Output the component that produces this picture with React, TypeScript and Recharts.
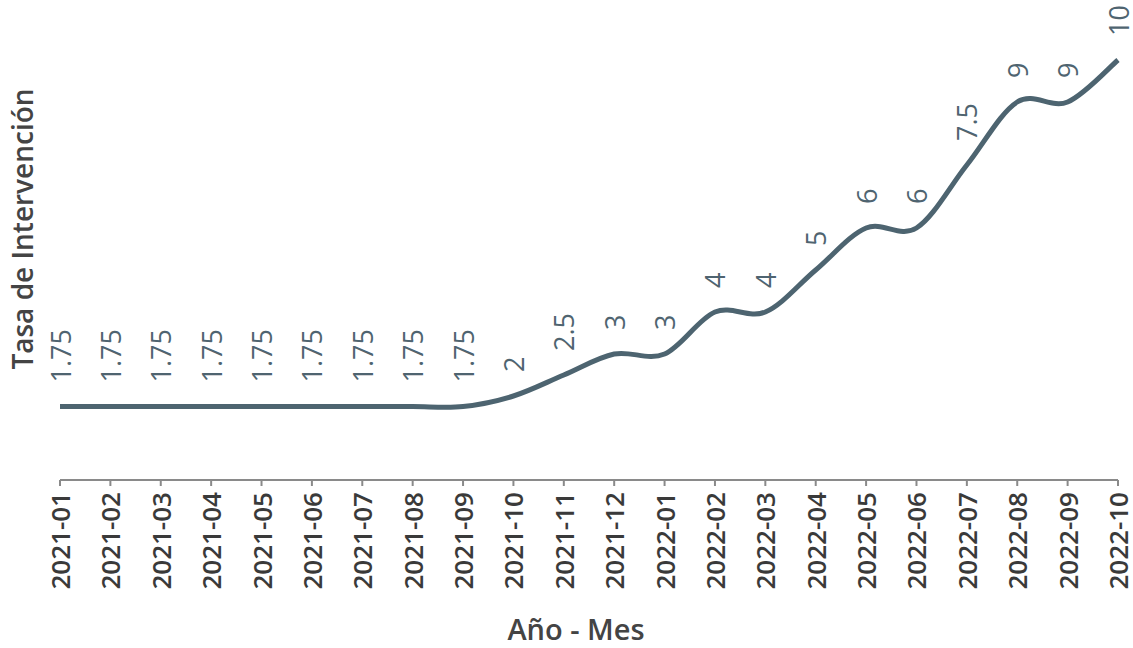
import React from "react";
import { LineChart, Line, XAxis, YAxis, LabelList } from "recharts";

const months = [
  "2021-01", "2021-02", "2021-03", "2021-04", "2021-05", "2021-06",
  "2021-07", "2021-08", "2021-09", "2021-10", "2021-11", "2021-12",
  "2022-01", "2022-02", "2022-03", "2022-04", "2022-05", "2022-06",
  "2022-07", "2022-08", "2022-09", "2022-10",
];
const rates = [
  1.75, 1.75, 1.75, 1.75, 1.75, 1.75, 1.75, 1.75, 1.75, 2, 2.5, 3,
  3, 4, 4, 5, 6, 6, 7.5, 9, 9, 10,
];

const data = months.map((m, i) => ({ month: m, rate: rates[i] }));

const FONT = "'Open Sans', sans-serif";
const LINE = "#4d6470";

// smooth line like a spreadsheet "smoothed line" (catmull-rom bezier)
const smoothCurve = (context: any) => {
  let pts: [number, number][] = [];
  return {
    areaStart() {},
    areaEnd() {},
    lineStart() {
      pts = [];
    },
    point(x: number, y: number) {
      pts.push([+x, +y]);
    },
    lineEnd() {
      if (!pts.length) return;
      context.moveTo(pts[0][0], pts[0][1]);
      for (let i = 0; i < pts.length - 1; i++) {
        const p0 = pts[Math.max(i - 1, 0)];
        const p1 = pts[i];
        const p2 = pts[i + 1];
        const p3 = pts[Math.min(i + 2, pts.length - 1)];
        context.bezierCurveTo(
          p1[0] + (p2[0] - p0[0]) / 6,
          p1[1] + (p2[1] - p0[1]) / 6,
          p2[0] - (p3[0] - p1[0]) / 6,
          p2[1] - (p3[1] - p1[1]) / 6,
          p2[0],
          p2[1]
        );
      }
    },
  };
};

function MonthTick({ x, y, payload }: any) {
  const ty = y + 4;
  return (
    <text
      x={x}
      y={ty}
      transform={`rotate(-90, ${x}, ${ty})`}
      textAnchor="end"
      dominantBaseline="central"
      fontFamily={FONT}
      fontSize={26}
      fontWeight={600}
      fill="#3a3a3a"
    >
      {payload.value}
    </text>
  );
}

function ValueLabel({ x, y, value }: any) {
  const ly = y - 24;
  return (
    <text
      x={x}
      y={ly}
      transform={`rotate(-90, ${x}, ${ly})`}
      textAnchor="start"
      dominantBaseline="central"
      fontFamily={FONT}
      fontSize={27}
      fontWeight={500}
      fill="#4f6470"
    >
      {value}
    </text>
  );
}

export default function App() {
  return (
    <div style={{ position: "absolute", left: 0, top: 0, width: 1133, height: 648, background: "#fff" }}>
      <LineChart
        width={1133}
        height={648}
        data={data}
        margin={{ top: 60, right: 15, bottom: 8, left: 60 }}
      >
        <XAxis
          dataKey="month"
          interval={0}
          height={160}
          tick={<MonthTick />}
          axisLine={{ stroke: "#8a8a8a", strokeWidth: 2 }}
          tickLine={{ stroke: "#8a8a8a", strokeWidth: 2 }}
          tickSize={6}
        />
        <YAxis hide domain={[0, 10]} />
        <Line
          dataKey="rate"
          type={smoothCurve as any}
          stroke={LINE}
          strokeWidth={5}
          dot={false}
          activeDot={false}
          isAnimationActive={false}
        >
          <LabelList dataKey="rate" content={<ValueLabel />} />
        </Line>
      </LineChart>
      <div
        style={{
          position: "absolute",
          left: 22,
          top: 229,
          transform: "translate(-50%, -50%) rotate(-90deg)",
          whiteSpace: "nowrap",
          fontFamily: FONT,
          fontSize: 28,
          fontWeight: 600,
          lineHeight: 1.1,
          color: "#444",
        }}
      >
        Tasa de Intervención
      </div>
      <div
        style={{
          position: "absolute",
          left: 576,
          top: 628,
          transform: "translate(-50%, -50%)",
          whiteSpace: "nowrap",
          fontFamily: FONT,
          fontSize: 29,
          fontWeight: 600,
          lineHeight: 1,
          color: "#444",
        }}
      >
        Año - Mes
      </div>
    </div>
  );
}
